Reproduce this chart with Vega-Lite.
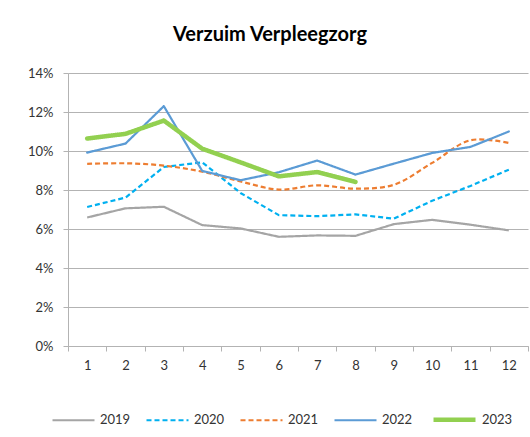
{
  "$schema": "https://vega.github.io/schema/vega-lite/v6.json",
  "width": 460,
  "height": 273,
  "autosize": {"type": "none"},
  "padding": {"left": 68, "top": 73, "right": 2, "bottom": 91},
  "background": "white",
  "title": {
    "text": "Verzuim Verpleegzorg",
    "font": "Lato",
    "fontSize": 20,
    "fontWeight": "bold",
    "color": "black",
    "anchor": "middle",
    "dx": -28,
    "offset": 22
  },
  "data": {
    "values": [
      {"year": "2019", "month": 1, "value": 0.0659},
      {"year": "2019", "month": 2, "value": 0.0706},
      {"year": "2019", "month": 3, "value": 0.0714},
      {"year": "2019", "month": 4, "value": 0.0620},
      {"year": "2019", "month": 5, "value": 0.0603},
      {"year": "2019", "month": 6, "value": 0.0560},
      {"year": "2019", "month": 7, "value": 0.0567},
      {"year": "2019", "month": 8, "value": 0.0565},
      {"year": "2019", "month": 9, "value": 0.0625},
      {"year": "2019", "month": 10, "value": 0.0647},
      {"year": "2019", "month": 11, "value": 0.0622},
      {"year": "2019", "month": 12, "value": 0.0593},
      {"year": "2020", "month": 1, "value": 0.0713},
      {"year": "2020", "month": 2, "value": 0.0761},
      {"year": "2020", "month": 3, "value": 0.0918},
      {"year": "2020", "month": 4, "value": 0.0942},
      {"year": "2020", "month": 5, "value": 0.0785},
      {"year": "2020", "month": 6, "value": 0.0671},
      {"year": "2020", "month": 7, "value": 0.0666},
      {"year": "2020", "month": 8, "value": 0.0675},
      {"year": "2020", "month": 9, "value": 0.0653},
      {"year": "2020", "month": 10, "value": 0.0745},
      {"year": "2020", "month": 11, "value": 0.0821},
      {"year": "2020", "month": 12, "value": 0.0904},
      {"year": "2021", "month": 1, "value": 0.0934},
      {"year": "2021", "month": 2, "value": 0.0937},
      {"year": "2021", "month": 3, "value": 0.0925},
      {"year": "2021", "month": 4, "value": 0.0894},
      {"year": "2021", "month": 5, "value": 0.0844},
      {"year": "2021", "month": 6, "value": 0.0802},
      {"year": "2021", "month": 7, "value": 0.0824},
      {"year": "2021", "month": 8, "value": 0.0807},
      {"year": "2021", "month": 9, "value": 0.0827},
      {"year": "2021", "month": 10, "value": 0.0939},
      {"year": "2021", "month": 11, "value": 0.1055},
      {"year": "2021", "month": 12, "value": 0.1041},
      {"year": "2022", "month": 1, "value": 0.0992},
      {"year": "2022", "month": 2, "value": 0.1038},
      {"year": "2022", "month": 3, "value": 0.1230},
      {"year": "2022", "month": 4, "value": 0.0898},
      {"year": "2022", "month": 5, "value": 0.0850},
      {"year": "2022", "month": 6, "value": 0.0891},
      {"year": "2022", "month": 7, "value": 0.0951},
      {"year": "2022", "month": 8, "value": 0.0879},
      {"year": "2022", "month": 9, "value": 0.0935},
      {"year": "2022", "month": 10, "value": 0.0990},
      {"year": "2022", "month": 11, "value": 0.1021},
      {"year": "2022", "month": 12, "value": 0.1100},
      {"year": "2023", "month": 1, "value": 0.1064},
      {"year": "2023", "month": 2, "value": 0.1088},
      {"year": "2023", "month": 3, "value": 0.1156},
      {"year": "2023", "month": 4, "value": 0.1012},
      {"year": "2023", "month": 5, "value": 0.0942},
      {"year": "2023", "month": 6, "value": 0.0870},
      {"year": "2023", "month": 7, "value": 0.0892},
      {"year": "2023", "month": 8, "value": 0.0841}
    ]
  },
  "encoding": {
    "x": {
      "field": "month",
      "type": "ordinal",
      "scale": {"type": "band", "paddingInner": 0, "paddingOuter": 0},
      "axis": {
        "title": null,
        "labelAngle": 0,
        "tickBand": "extent",
        "grid": false,
        "tickSize": 5,
        "domainColor": "#b3b3b3",
        "tickColor": "#b3b3b3",
        "labelFont": "Lato",
        "labelFontSize": 13,
        "labelColor": "#333333",
        "labelPadding": 8
      }
    },
    "y": {
      "field": "value",
      "type": "quantitative",
      "scale": {"domain": [0, 0.14], "nice": false},
      "axis": {
        "title": null,
        "format": ".0%",
        "values": [0, 0.02, 0.04, 0.06, 0.08, 0.1, 0.12, 0.14],
        "grid": true,
        "gridColor": "#b3b3b3",
        "domainColor": "#b3b3b3",
        "tickColor": "#b3b3b3",
        "tickSize": 5,
        "labelPadding": 10,
        "labelFont": "Lato",
        "labelFontSize": 13,
        "labelColor": "#333333"
      }
    },
    "color": {
      "field": "year",
      "type": "ordinal",
      "scale": {
        "domain": ["2019", "2020", "2021", "2022", "2023"],
        "range": ["#a5a5a5", "#00b0f0", "#ed7d31", "#5b9bd5", "#92d050"]
      },
      "legend": {
        "orient": "none",
        "legendX": -17,
        "legendY": 323,
        "direction": "horizontal",
        "title": null,
        "symbolType": "stroke",
        "symbolSize": 1764,
        "labelFont": "Lato",
        "labelFontSize": 13,
        "labelColor": "#333333",
        "labelOffset": 4,
        "columnPadding": 11,
        "padding": 0
      }
    },
    "strokeDash": {
      "field": "year",
      "type": "ordinal",
      "scale": {
        "domain": ["2019", "2020", "2021", "2022", "2023"],
        "range": [[1, 0], [5, 3], [5, 3], [1, 0], [1, 0]]
      }
    },
    "strokeWidth": {
      "field": "year",
      "type": "ordinal",
      "scale": {
        "type": "ordinal",
        "domain": ["2019", "2020", "2021", "2022", "2023"],
        "range": [2.2, 2.2, 2.2, 2.2, 4.5]
      }
    }
  },
  "layer": [
    {
      "transform": [{"filter": "datum.year == '2019' || datum.year == '2020'"}],
      "mark": {"type": "line", "strokeJoin": "round"}
    },
    {
      "transform": [{"filter": "datum.year == '2021'"}],
      "mark": {"type": "line", "interpolate": "catmull-rom", "strokeJoin": "round"}
    },
    {
      "transform": [{"filter": "datum.year == '2022' || datum.year == '2023'"}],
      "mark": {"type": "line", "strokeJoin": "round", "strokeCap": "round"}
    }
  ],
  "config": {"view": {"stroke": null}, "font": "Lato"}
}
